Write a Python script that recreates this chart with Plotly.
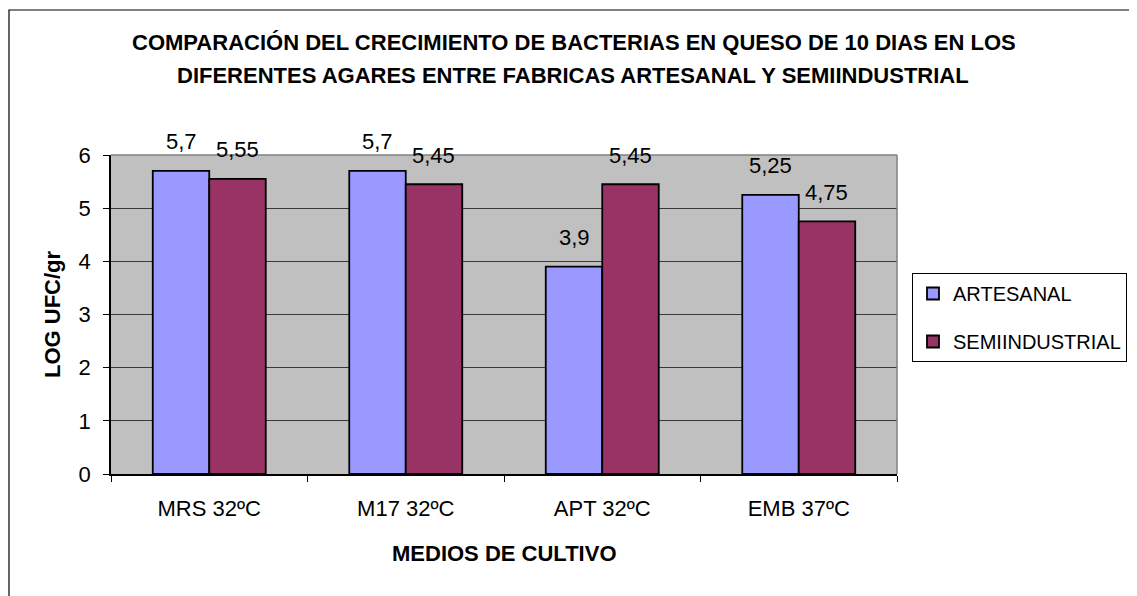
import plotly.graph_objects as go

categories = ["MRS 32ºC", "M17 32ºC", "APT 32ºC", "EMB 37ºC"]
artesanal = [5.7, 5.7, 3.9, 5.25]
semiindustrial = [5.55, 5.45, 5.45, 4.75]
series_names = ["ARTESANAL", "SEMIINDUSTRIAL"]
series_colors = ["#9999FF", "#993366"]
title_lines = [
    "COMPARACIÓN DEL CRECIMIENTO DE BACTERIAS EN QUESO DE 10 DIAS EN LOS",
    "DIFERENTES AGARES ENTRE FABRICAS ARTESANAL Y SEMIINDUSTRIAL",
]
x_title = "MEDIOS DE CULTIVO"
y_title = "LOG UFC/gr"
y_ticks = [0, 1, 2, 3, 4, 5, 6]

FONT = "Liberation Sans, Arial, sans-serif"
W, H = 1137, 596
OFF = 8  # page body margin
PL, PR, PT, PB = 111, 897, 155, 474  # plot area in screenshot pixels
pw, ph = PR - PL, PB - PT
L, T = PL - OFF, PT - OFF
R = W - L - pw
B = H - T - ph

def px_x(px):
    return (px - PL) / pw

def px_y(py):
    return (PB - py) / ph

fig = go.Figure()
all_series = [artesanal, semiindustrial]
for name, vals, col in zip(series_names, all_series, series_colors):
    fig.add_trace(go.Bar(
        x=categories, y=vals, name=name, legendgroup=name,
        marker=dict(color=col, line=dict(color="black", width=1.8)),
        hoverinfo="skip",
    ))

annotations = []
group_w = pw / len(categories)
bar_w = group_w * (1 - 0.425) / 2
for i, vals in enumerate(all_series):
    shift = (i - 0.5) * bar_w
    for c, v in zip(categories, vals):
        annotations.append(dict(
            x=c, y=v, xref="x", yref="y", text=str(v).replace(".", ","),
            showarrow=False, xshift=shift, yshift=29, xanchor="center", yanchor="middle",
            font=dict(family=FONT, size=22, color="black"),
        ))

def label(text, x, y, size, angle=0):
    return dict(x=x, y=y, xref="paper", yref="paper", text="<b>" + text + "</b>",
                showarrow=False, xanchor="center", yanchor="middle", textangle=angle,
                font=dict(family=FONT, size=size, color="black"))

annotations.append(label(title_lines[0], px_x(574), px_y(43), 22))
annotations.append(label(title_lines[1], px_x(573), px_y(76), 22))
annotations.append(label(x_title, px_x(504), px_y(553), 22))
annotations.append(label(y_title, px_x(52), px_y(314), 22, angle=-90))

shapes = [
    # outer chart frame (only top/left visible in the reference)
    dict(type="rect", xref="paper", yref="paper", x0=px_x(9), y0=px_y(800),
         x1=px_x(1400), y1=px_y(10), line=dict(color="black", width=1.2)),
    # plot-area top and right border (grey)
    dict(type="line", xref="paper", yref="paper", x0=0, x1=1, y0=1, y1=1,
         line=dict(color="#808080", width=1.5)),
    dict(type="line", xref="paper", yref="paper", x0=1, x1=1, y0=0, y1=1,
         line=dict(color="#808080", width=1.5)),
]

fig.update_layout(
    width=W, height=H,
    margin=dict(l=L, r=R, t=T, b=B, autoexpand=False),
    paper_bgcolor="white", plot_bgcolor="#C0C0C0",
    barmode="group", bargap=0.425, bargroupgap=0,
    font=dict(family=FONT, size=20, color="black"),
    showlegend=True,
    legend=dict(x=px_x(912), y=px_y(273), xanchor="left", yanchor="top",
                bgcolor="white", bordercolor="black", borderwidth=1,
                font=dict(family=FONT, size=20, color="black"),
                tracegroupgap=19, itemwidth=30),
    annotations=annotations, shapes=shapes,
)
fig.update_xaxes(
    type="category", showline=True, linecolor="black", linewidth=1.5,
    ticks="outside", tickson="boundaries", ticklen=6, tickcolor="black",
    showgrid=False, ticklabelstandoff=14,
    tickfont=dict(family=FONT, size=22, color="black"),
)
fig.update_yaxes(
    range=[0, 6], tickvals=y_ticks, showline=True, linecolor="black", linewidth=1.5,
    ticks="outside", ticklen=6, tickcolor="black", ticklabelstandoff=8,
    showgrid=True, gridcolor="#3a3a3a", gridwidth=1, zeroline=False,
    tickfont=dict(family=FONT, size=22, color="black"),
)

fig.write_html("out.html")
